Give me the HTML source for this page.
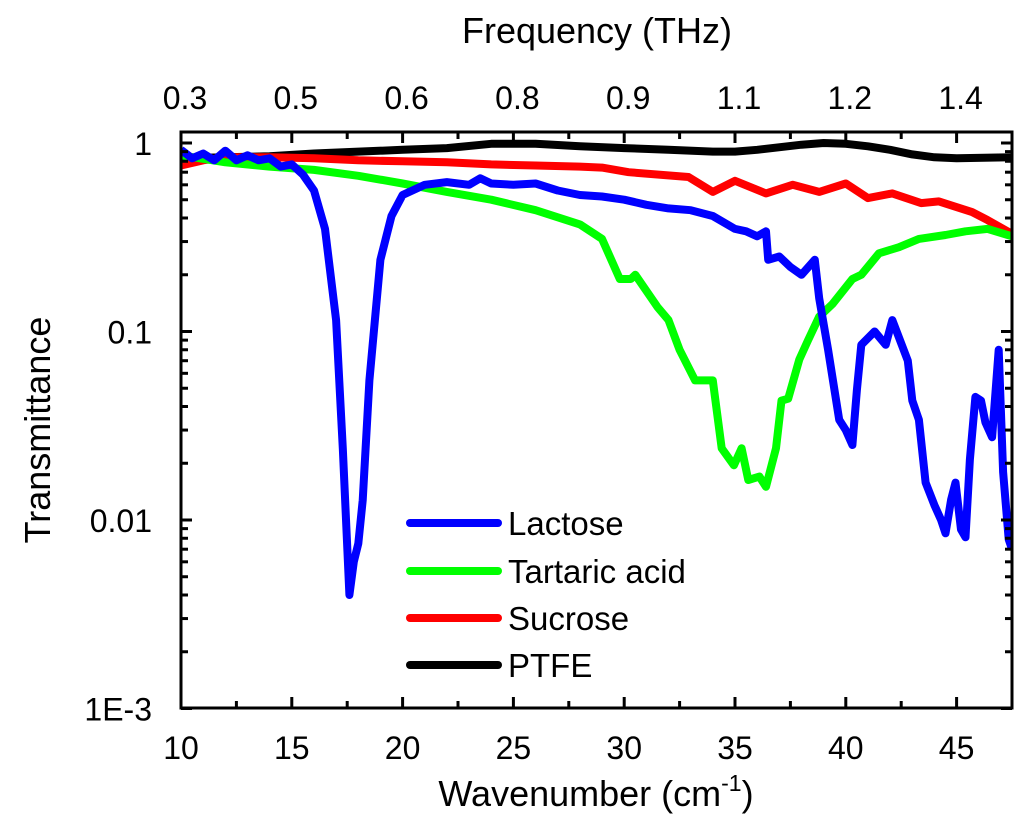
<!DOCTYPE html>
<html><head><meta charset="utf-8"><style>
body{margin:0;background:#fff}
svg{display:block;font-family:"Liberation Sans",Arial,sans-serif}
</style></head><body>
<svg id="chart" width="1024" height="821" viewBox="0 0 1024 821">
<g id="plot"></g>
</svg>
<script>
const lacW=[10,10.5,11,11.5,12,12.5,13,13.5,14,14.5,15,15.5,16,16.5,17,17.3,17.6,17.8,18,18.2,18.5,19,19.5,20,21,22,23,23.5,24,25,26,27,28,29,30,31,32,33,34,35,35.5,36,36.4,36.5,37,37.5,38,38.6,38.8,39.2,39.7,40,40.3,40.5,40.7,41.3,41.8,42.1,42.8,43,43.3,43.6,44,44.3,44.5,44.75,44.95,45.2,45.4,45.6,45.85,46.1,46.3,46.6,46.9,47.1,47.35,47.5];
const lacT=[0.92,0.83,0.88,0.81,0.91,0.81,0.86,0.81,0.83,0.75,0.77,0.68,0.56,0.35,0.115,0.024,0.004,0.006,0.0075,0.0127,0.055,0.24,0.41,0.53,0.60,0.62,0.60,0.65,0.61,0.60,0.61,0.56,0.53,0.52,0.50,0.47,0.45,0.44,0.41,0.35,0.34,0.32,0.34,0.24,0.25,0.22,0.20,0.24,0.15,0.08,0.034,0.030,0.025,0.049,0.085,0.10,0.085,0.115,0.07,0.043,0.034,0.0158,0.012,0.010,0.0085,0.0128,0.0158,0.0089,0.0081,0.021,0.045,0.043,0.033,0.0275,0.08,0.018,0.0079,0.007];
const tarW=[10,12,14,16,18,20,22,24,26,28,29,29.8,30.3,30.5,31.5,32,32.5,33.2,34,34.4,34.95,35.3,35.6,36.1,36.4,36.85,37.1,37.4,37.9,38.3,38.8,39.4,40.3,40.7,41.5,42.4,43.3,44.5,45.4,46.4,47.5];
const tarT=[0.86,0.79,0.75,0.72,0.67,0.61,0.55,0.50,0.44,0.37,0.31,0.19,0.19,0.20,0.135,0.115,0.08,0.055,0.055,0.024,0.0195,0.024,0.0163,0.017,0.015,0.024,0.043,0.044,0.071,0.09,0.12,0.14,0.19,0.20,0.26,0.28,0.31,0.325,0.34,0.35,0.32];
const sucW=[10,11,12,14,16,18,20,22,24,26,28,29,30.2,32.9,34,35,36.4,37.6,38.8,40,41,42.1,43.4,44.2,45.7,46.4,47.5];
const sucT=[0.76,0.81,0.84,0.84,0.83,0.81,0.80,0.79,0.77,0.76,0.75,0.74,0.70,0.66,0.55,0.63,0.54,0.60,0.55,0.61,0.51,0.54,0.48,0.49,0.43,0.39,0.33];
const ptfW=[10,12,14,16,20,22,24,26,28,30,32,34,35,36,38,39,40,41,42,43,44,45,47.5];
const ptfT=[0.83,0.84,0.85,0.88,0.92,0.94,0.99,0.99,0.96,0.94,0.92,0.90,0.90,0.92,0.98,1.0,0.99,0.96,0.92,0.87,0.84,0.83,0.84];
const xTicks=[10,15,20,25,30,35,40,45];
const topLabels=["0.3","0.5","0.6","0.8","0.9","1.1","1.2","1.4"];
const yTicks=[1,0.1,0.01,0.001];
const yLabels=["1","0.1","0.01","1E-3"];

const L=181,R=1012,T=132,B=708;
const xMin=10,xMax=47.5;
const y1=143,decade=188.5;
function X(w){return L+(w-xMin)/(xMax-xMin)*(R-L);}
function Y(t){return y1-Math.log10(t)*decade;}
const NS="http://www.w3.org/2000/svg";
const svg=document.getElementById('chart');
const plot=document.getElementById('plot');
function mk(tag,attrs,parent){const e=document.createElementNS(NS,tag);for(const k in attrs)e.setAttribute(k,attrs[k]);(parent||svg).appendChild(e);return e;}

const defs=mk('defs',{});
const cp=mk('clipPath',{id:'clip'},defs);
mk('rect',{x:L,y:T,width:R-L,height:B-T},cp);

const series=[
 {w:lacW,t:lacT,c:'#0000ff',n:'lactose-line'},
 {w:tarW,t:tarT,c:'#00ff00',n:'tartaric-acid-line'},
 {w:sucW,t:sucT,c:'#ff0000',n:'sucrose-line'},
 {w:ptfW,t:ptfT,c:'#000000',n:'ptfe-line'}];
[3,2,1,0].forEach(i=>{const s=series[i];
 const d=s.w.map((w,j)=>(j?'L':'M')+X(w).toFixed(1)+' '+Y(s.t[j]).toFixed(1)).join(' ');
 const p=mk('path',{d:d,fill:'none',stroke:s.c,'stroke-width':8,'stroke-linejoin':'round','clip-path':'url(#clip)'},plot);
 
 
});

const fr=mk('rect',{x:L,y:T,width:R-L,height:B-T,fill:'none',stroke:'#000','stroke-width':3});



for(let w=10;w<=47.5;w+=2.5){const major=(w%5===0);const len=major?11:7;const x=X(w);
 mk('line',{x1:x,x2:x,y1:B,y2:B-len,stroke:'#000','stroke-width':3});
 mk('line',{x1:x,x2:x,y1:T,y2:T+len,stroke:'#000','stroke-width':3});}
xTicks.forEach((w,i)=>{
 const t=mk('text',{x:X(w),y:759,'font-size':32,'text-anchor':'middle'});t.textContent=w;
 
 
 const u=mk('text',{x:X(w)+4,y:109,'font-size':32,'text-anchor':'middle'});u.textContent=topLabels[i];
 
 
});
yTicks.forEach((v,i)=>{const y=Y(v);
 mk('line',{x1:L,x2:L+11,y1:y,y2:y,stroke:'#000','stroke-width':3});
 mk('line',{x1:R,x2:R-11,y1:y,y2:y,stroke:'#000','stroke-width':3});
 const t=mk('text',{x:152,y:y+12,'font-size':32,'text-anchor':'end'});t.textContent=yLabels[i];
 
 
 if(i<3){for(let m=2;m<=9;m++){const ym=Y(v/10*m);
  mk('line',{x1:L,x2:L+7,y1:ym,y2:ym,stroke:'#000','stroke-width':3});
  mk('line',{x1:R,x2:R-7,y1:ym,y2:ym,stroke:'#000','stroke-width':3});}}
});
let a=mk('text',{x:596,y:806,'font-size':36,'text-anchor':'middle'});
a.innerHTML='Wavenumber (cm<tspan dy="-15" font-size="23">-1</tspan><tspan dy="15">)</tspan>';


a=mk('text',{x:597,y:43,'font-size':36,'text-anchor':'middle'});a.textContent='Frequency (THz)';


a=mk('text',{x:0,y:0,'font-size':36,'text-anchor':'middle',transform:'translate(50,430) rotate(-90)'});a.textContent='Transmittance';


const names=['Lactose','Tartaric acid','Sucrose','PTFE'];
const ly=[523,571,618,665];
names.forEach((n,i)=>{
 const g=mk('g',{});
 
 
 mk('line',{x1:410,x2:498,y1:ly[i],y2:ly[i],stroke:series[i].c,'stroke-width':8,'stroke-linecap':'round'},g);
 const t=mk('text',{x:508,y:ly[i]+12,'font-size':33},g);t.textContent=n;
});
</script>
</body></html>
